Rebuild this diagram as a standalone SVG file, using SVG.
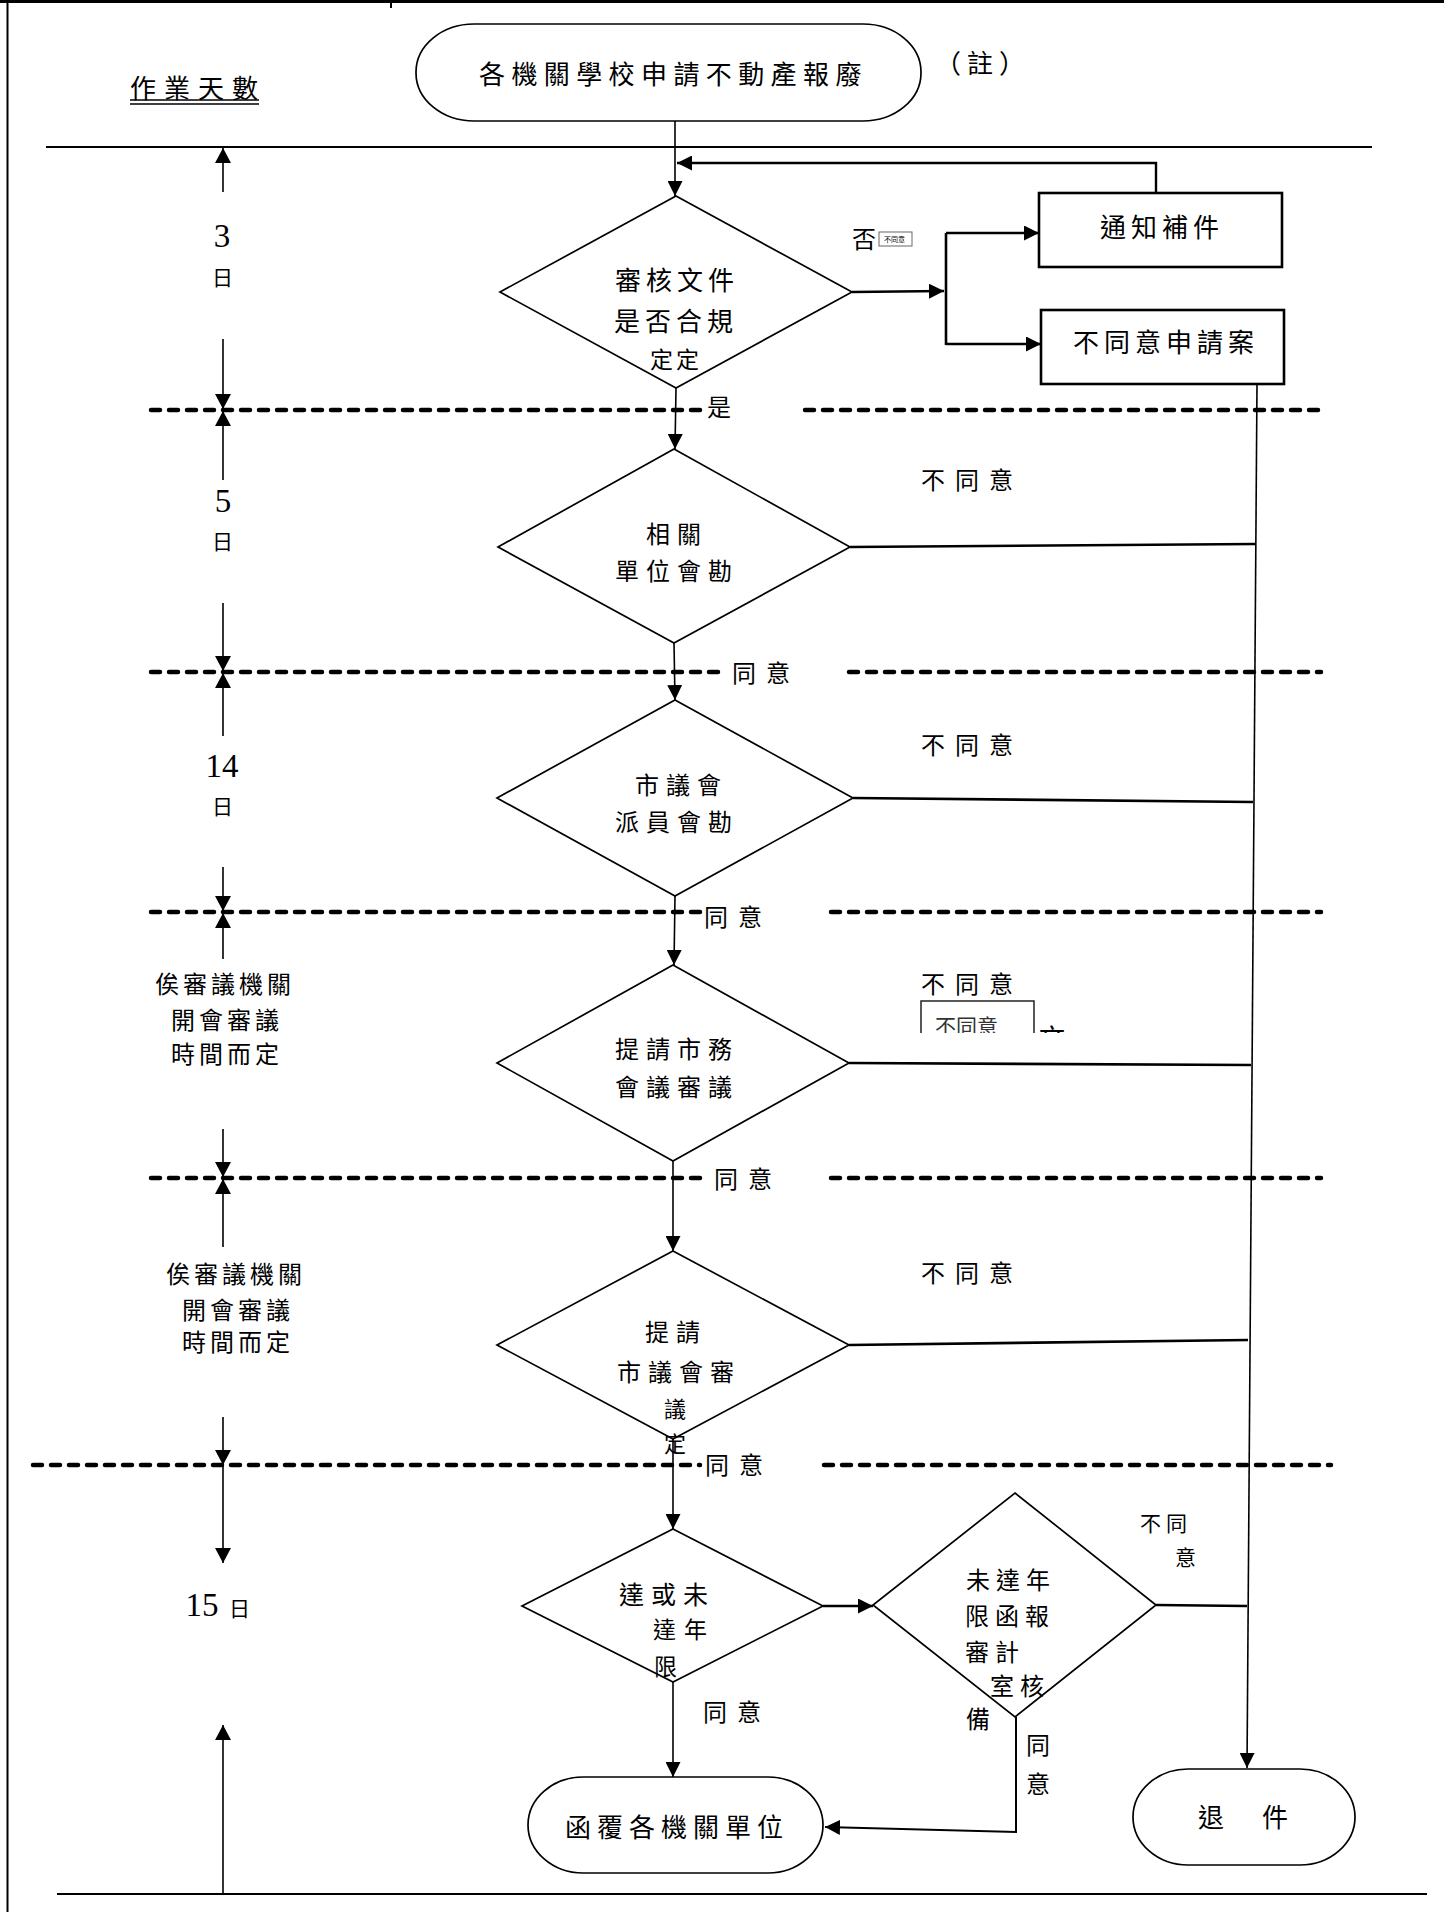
<svg xmlns="http://www.w3.org/2000/svg" width="1444" height="1912" viewBox="0 0 1444 1912">
<style>
.t{font-family:"Noto Sans CJK TC","Noto Sans CJK SC",sans-serif;dominant-baseline:central;fill:#000}
.f26{font-size:26px;letter-spacing:5px}
.f24{font-size:24px;letter-spacing:7px}
.lab{font-size:24px;letter-spacing:10px}
.side{font-size:24px;letter-spacing:4px}
.num{font-family:"Liberation Serif",serif;font-size:33px;dominant-baseline:central;text-anchor:middle}
.shape{fill:#fff;stroke:#000;stroke-width:1.7}
.box{fill:#fff;stroke:#000;stroke-width:2.6}
.ln{fill:none;stroke:#000;stroke-width:1.6}
.tk{fill:none;stroke:#000;stroke-width:2.6}
.dash{fill:none;stroke:#000;stroke-width:4.5;stroke-dasharray:9 9;stroke-linecap:round}
.frame{fill:none;stroke:#000}
</style>
<defs>
<marker id="ah" viewBox="0 0 15 15" refX="15" refY="7.5" markerWidth="15" markerHeight="15" markerUnits="userSpaceOnUse" orient="auto"><path d="M0,0 L15,7.5 L0,15 z" fill="#000"/></marker>
<marker id="ahL" viewBox="0 0 15 16" refX="15" refY="8" markerWidth="15" markerHeight="16" markerUnits="userSpaceOnUse" orient="auto"><path d="M0,0 L15,8 L0,16 z" fill="#000"/></marker>
<clipPath id="clipBox"><rect x="910" y="995" width="170" height="38"/></clipPath>
</defs>

<!-- frame -->
<g id="frame">
<line class="frame" x1="0" y1="1.5" x2="1444" y2="1.5" stroke-width="3"/>
<line class="frame" x1="391" y1="0" x2="391" y2="8" stroke-width="2"/>
<line class="frame" x1="7.5" y1="0" x2="7.5" y2="1912" stroke-width="2"/>
<line class="frame" x1="46" y1="147" x2="1372" y2="147" stroke-width="2"/>
<line class="frame" x1="57" y1="1894" x2="1427" y2="1894" stroke-width="2" stroke="#333"/>
</g>

<!-- swimlane dashed separators -->
<g id="separators">
<line class="dash" x1="151" y1="410" x2="700" y2="410"/>
<line class="dash" x1="805" y1="410" x2="1321" y2="410"/>
<line class="dash" x1="151" y1="672" x2="724" y2="672"/>
<line class="dash" x1="849" y1="672" x2="1321" y2="672"/>
<line class="dash" x1="151" y1="912" x2="700" y2="912"/>
<line class="dash" x1="831" y1="912" x2="1321" y2="912"/>
<line class="dash" x1="151" y1="1178" x2="709" y2="1178"/>
<line class="dash" x1="831" y1="1178" x2="1321" y2="1178"/>
<line class="dash" x1="33" y1="1465" x2="700" y2="1465"/>
<line class="dash" x1="824" y1="1465" x2="1331" y2="1465"/>
</g>

<!-- time axis -->
<g id="time-axis">
<text class="t" x="130" y="86" font-size="26" letter-spacing="8">作業天數</text>
<line x1="130" y1="100" x2="259" y2="100" stroke="#000" stroke-width="1.5"/>
<line x1="130" y1="104" x2="259" y2="104" stroke="#000" stroke-width="1.5"/>
<g class="ln">
<line x1="223" y1="192" x2="223" y2="148" marker-end="url(#ahL)"/>
<line x1="223" y1="339" x2="223" y2="409" marker-end="url(#ahL)"/>
<line x1="223" y1="480" x2="223" y2="411" marker-end="url(#ahL)"/>
<line x1="223" y1="603" x2="223" y2="671" marker-end="url(#ahL)"/>
<line x1="223" y1="736" x2="223" y2="673" marker-end="url(#ahL)"/>
<line x1="223" y1="867" x2="223" y2="911" marker-end="url(#ahL)"/>
<line x1="223" y1="959" x2="223" y2="913" marker-end="url(#ahL)"/>
<line x1="223" y1="1129" x2="223" y2="1177" marker-end="url(#ahL)"/>
<line x1="223" y1="1247" x2="223" y2="1179" marker-end="url(#ahL)"/>
<line x1="223" y1="1417" x2="223" y2="1465" marker-end="url(#ahL)"/>
<line x1="223" y1="1466" x2="223" y2="1563" marker-end="url(#ahL)"/>
<line x1="223" y1="1894" x2="223" y2="1725" marker-end="url(#ahL)"/>
</g>
<text class="num" x="222" y="236">3</text>
<text class="t" x="212" y="276" font-size="21">日</text>
<text class="num" x="223" y="501">5</text>
<text class="t" x="212" y="540" font-size="21">日</text>
<text class="num" x="222" y="766">14</text>
<text class="t" x="212" y="805" font-size="21">日</text>
<text class="t side" x="155" y="982">俟審議機關</text>
<text class="t side" x="171" y="1018">開會審議</text>
<text class="t side" x="171" y="1052">時間而定</text>
<text class="t side" x="166" y="1272">俟審議機關</text>
<text class="t side" x="182" y="1308">開會審議</text>
<text class="t side" x="182" y="1340">時間而定</text>
<text class="num" x="202" y="1605">15</text>
<text class="t" x="229" y="1607" font-size="21">日</text>
</g>

<!-- connectors -->
<g id="connectors">
<g class="ln">
<line x1="675" y1="121" x2="675" y2="196" marker-end="url(#ah)"/>
<polyline points="1156,193 1156,163 677,163" marker-end="url(#ah)" stroke-width="2.4"/>
<line x1="676" y1="388" x2="675" y2="449" marker-end="url(#ah)"/>
<line x1="674" y1="643" x2="675" y2="700" marker-end="url(#ah)"/>
<line x1="675" y1="896" x2="674" y2="965" marker-end="url(#ah)"/>
<line x1="673" y1="1161" x2="673" y2="1251" marker-end="url(#ah)"/>
<line x1="673" y1="1439" x2="673" y2="1529" marker-end="url(#ah)"/>
<line x1="673" y1="1682" x2="673" y2="1777" marker-end="url(#ah)"/>
<line x1="823" y1="1606" x2="873" y2="1606" marker-end="url(#ah)" stroke-width="2.4"/>
<polyline points="1016,1717 1016,1832 825,1827" marker-end="url(#ah)" stroke-width="2"/>
<line x1="1257" y1="384" x2="1247" y2="1768" marker-end="url(#ah)"/>
</g>
<g class="tk">
<line x1="852" y1="292" x2="944" y2="291" marker-end="url(#ah)"/>
<line x1="946" y1="233" x2="946" y2="345"/>
<line x1="946" y1="233" x2="1039" y2="233" marker-end="url(#ah)"/>
<line x1="946" y1="344" x2="1041" y2="344" marker-end="url(#ah)"/>
<line x1="850" y1="547" x2="1256" y2="544"/>
<line x1="853" y1="798" x2="1253" y2="802"/>
<line x1="849" y1="1063" x2="1251" y2="1065"/>
<line x1="849" y1="1345" x2="1248" y2="1340"/>
<line x1="1156" y1="1605" x2="1247" y2="1606"/>
</g>
</g>

<!-- nodes -->
<g id="start">
<rect class="shape" x="416" y="24" width="505" height="97" rx="58" ry="48" stroke-width="2"/>
<text class="t" x="479" y="72" font-size="26" letter-spacing="6.4">各機關學校申請不動產報廢</text>
</g>
<text id="note" class="t" x="935" y="61" font-size="26" letter-spacing="6">（註）</text>

<g id="d1">
<polygon class="shape" points="676,196 852,292 676,388 500,292"/>
<text class="t f26" x="615" y="278">審核文件</text>
<text class="t f26" x="614" y="319">是否合規</text>
<text class="t" x="650" y="358" font-size="23" letter-spacing="3">定定</text>
</g>

<g id="notify">
<rect class="box" x="1039" y="193" width="243" height="74"/>
<text class="t f26" x="1100" y="225">通知補件</text>
</g>

<g id="reject">
<rect class="box" x="1041" y="310" width="243" height="74"/>
<text class="t f26" x="1073" y="340">不同意申請案</text>
</g>

<g id="d2">
<polygon class="shape" points="674,449 850,547 674,643 498,547"/>
<text class="t f24" x="646" y="532">相關</text>
<text class="t f24" x="615" y="569">單位會勘</text>
</g>

<g id="d3">
<polygon class="shape" points="675,700 853,798 675,896 497,798"/>
<text class="t f24" x="635" y="783">市議會</text>
<text class="t f24" x="615" y="820">派員會勘</text>
</g>

<g id="d4">
<polygon class="shape" points="673,965 849,1063 673,1161 497,1063"/>
<text class="t f24" x="615" y="1047">提請市務</text>
<text class="t f24" x="615" y="1085">會議審議</text>
</g>

<g id="d5">
<polygon class="shape" points="673,1251 849,1345 673,1439 497,1345"/>
<text class="t f24" x="645" y="1330">提請</text>
<text class="t f24" x="617" y="1370">市議會審</text>
<text class="t" x="664" y="1407" font-size="22">議</text>
<text class="t" x="664" y="1442" font-size="22">定</text>
</g>

<g id="d6">
<polygon class="shape" points="673,1529 823,1606 673,1682 522,1606"/>
<text class="t" x="619" y="1593" font-size="25" letter-spacing="7">達或未</text>
<text class="t" x="653" y="1628" font-size="23" letter-spacing="8">達年</text>
<text class="t" x="654" y="1665" font-size="23">限</text>
</g>

<g id="d7">
<polygon class="shape" points="1015,1493 1156,1605 1015,1717 873,1605"/>
<text class="t" x="966" y="1578" font-size="24" letter-spacing="6">未達年</text>
<text class="t" x="965" y="1614" font-size="24" letter-spacing="6">限函報</text>
<text class="t" x="965" y="1650" font-size="24" letter-spacing="6">審計</text>
<text class="t" x="990" y="1684" font-size="24" letter-spacing="6">室核</text>
<text class="t" x="966" y="1717" font-size="24">備</text>
</g>

<g id="reply">
<rect class="shape" x="528" y="1777" width="295" height="96" rx="55" ry="48"/>
<text class="t" x="565" y="1825" font-size="26" letter-spacing="6">函覆各機關單位</text>
</g>

<g id="return">
<rect class="shape" x="1133" y="1769" width="222" height="96" rx="55" ry="48"/>
<text class="t" x="1198" y="1815" font-size="26" letter-spacing="6">退　件</text>
</g>

<!-- connector labels -->
<g id="labels">
<text class="t" x="852" y="237" font-size="24">否</text>
<rect x="879" y="232" width="33" height="14" fill="#fff" stroke="#666" stroke-width="1"/>
<text class="t" x="884" y="239" font-size="7" fill="#555">不同意</text>
<text class="t" x="707" y="405" font-size="24">是</text>
<text class="t lab" x="921" y="478">不同意</text>
<text class="t lab" x="732" y="671">同意</text>
<text class="t lab" x="921" y="743">不同意</text>
<text class="t lab" x="704" y="915">同意</text>
<text class="t lab" x="921" y="982">不同意</text>
<g clip-path="url(#clipBox)">
<path d="M921,1040 V1001 H1034 V1040" fill="none" stroke="#222" stroke-width="1.5"/>
<text x="935" y="1025" font-family="'Noto Sans CJK TC',sans-serif" font-size="21" fill="#333" dominant-baseline="central">不同意</text>
<text class="t" x="1039" y="1036" font-size="26">文</text>
</g>
<text class="t lab" x="714" y="1177">同意</text>
<text class="t lab" x="921" y="1271">不同意</text>
<text class="t lab" x="705" y="1463">同意</text>
<text class="t lab" x="703" y="1710">同意</text>
<text class="t" x="1140" y="1522" font-size="21" letter-spacing="5">不同</text>
<text class="t" x="1175" y="1556" font-size="21">意</text>
<text class="t" x="1026" y="1743" font-size="24">同</text>
<text class="t" x="1026" y="1782" font-size="24">意</text>
</g>
</svg>
